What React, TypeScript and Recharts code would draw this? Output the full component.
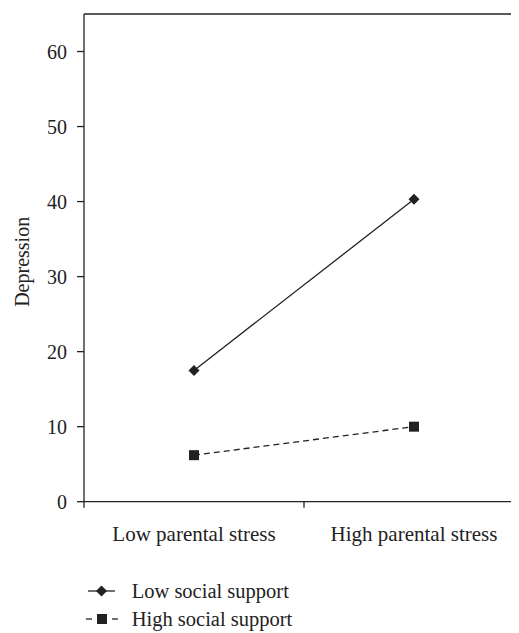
import React from "react"
import { LineChart, Line, XAxis, YAxis, ReferenceLine } from "recharts"

const categories = ["Low parental stress", "High parental stress"]
const seriesNames = ["Low social support", "High social support"]
const lowSupport = [17.5, 40.3]
const highSupport = [6.2, 10.0]
const yTicks = [0, 10, 20, 30, 40, 50, 60]
const xTicks = [0, 0.5, 1, 1.5, 2]

const INK = "#222"
const SERIF = "'Liberation Serif', 'Times New Roman', serif"

const data = categories.map((c, i) => ({
  x: i + 0.5,
  label: c,
  low: lowSupport[i],
  high: highSupport[i],
}))

function CategoryTick(props: any) {
  const { x, y, payload } = props
  const v = payload.value
  if (Number.isInteger(v)) {
    return <line x1={x} x2={x} y1={y} y2={y + 6} stroke={INK} strokeWidth={1.3} />
  }
  return (
    <text x={x} y={y + 32} dy="0.35em" textAnchor="middle" fontSize={21} fill={INK}>
      {categories[Math.floor(v)]}
    </text>
  )
}

function DiamondDot(props: any) {
  const { cx, cy, index } = props
  const r = 5.5
  return (
    <path
      key={`d-${index}`}
      d={`M${cx},${cy - r} L${cx + r},${cy} L${cx},${cy + r} L${cx - r},${cy} Z`}
      fill={INK}
    />
  )
}

function SquareDot(props: any) {
  const { cx, cy, index } = props
  const s = 10
  return <rect key={`s-${index}`} x={cx - s / 2} y={cy - s / 2} width={s} height={s} fill={INK} />
}

function DepressionLabel(props: any) {
  const { viewBox } = props
  const cy = viewBox.y + viewBox.height / 2 + 4
  return (
    <text x={14} y={cy} transform={`rotate(-90, 14, ${cy})`} textAnchor="middle" dy="0.35em" fontSize={20} fill={INK}>
      Depression
    </text>
  )
}

export default function App() {
  return (
    <div style={{ position: "relative", width: 511, height: 625, overflow: "hidden", fontFamily: SERIF }}>
      <LineChart width={520} height={545} data={data} margin={{ top: 6, right: 4, left: 0, bottom: 11.3 }}>
        <XAxis
          dataKey="x"
          type="number"
          domain={[0, 2]}
          ticks={xTicks}
          interval={0}
          height={40}
          tickSize={0}
          tickMargin={0}
          tickLine={false}
          axisLine={{ stroke: INK, strokeWidth: 1.3 }}
          tick={<CategoryTick />}
        />
        <YAxis
          type="number"
          domain={[0, 65]}
          ticks={yTicks}
          width={76}
          tickSize={7}
          tickMargin={10}
          axisLine={{ stroke: INK, strokeWidth: 1.3 }}
          tickLine={{ stroke: INK, strokeWidth: 1.3 }}
          tick={{ fill: INK, fontSize: 20 }}
          label={<DepressionLabel />}
        />
        <ReferenceLine y={65} stroke={INK} strokeWidth={1.3} />
        <ReferenceLine x={2} stroke={INK} strokeWidth={1.3} />
        <Line
          dataKey="low"
          name={seriesNames[0]}
          stroke={INK}
          strokeWidth={1.3}
          dot={DiamondDot}
          activeDot={false}
          isAnimationActive={false}
        />
        <Line
          dataKey="high"
          name={seriesNames[1]}
          stroke={INK}
          strokeWidth={1.3}
          strokeDasharray="6 4"
          dot={SquareDot}
          activeDot={false}
          isAnimationActive={false}
        />
      </LineChart>

      {/* legend */}
      <div style={{ position: "absolute", left: 78, top: 568.7, fontSize: 20.5, color: INK }}>
        {seriesNames.map((name, i) => (
          <div key={name} style={{ display: "flex", alignItems: "center", height: 28.3 }}>
            <svg width={32} height={20} style={{ display: "block" }}>
              {i === 0 ? (
                <>
                  <line x1={2} x2={29} y1={10} y2={10} stroke={INK} strokeWidth={1.3} />
                  <path d="M15.5,4.5 L21,10 L15.5,15.5 L10,10 Z" fill={INK} />
                </>
              ) : (
                <>
                  <line x1={0} x2={6} y1={10} y2={10} stroke={INK} strokeWidth={1.3} />
                  <rect x={11} y={5} width={10} height={10} fill={INK} />
                  <line x1={26} x2={32} y1={10} y2={10} stroke={INK} strokeWidth={1.3} />
                </>
              )}
            </svg>
            <span style={{ marginLeft: 13.7, lineHeight: 1 }}>{name}</span>
          </div>
        ))}
      </div>
    </div>
  )
}
